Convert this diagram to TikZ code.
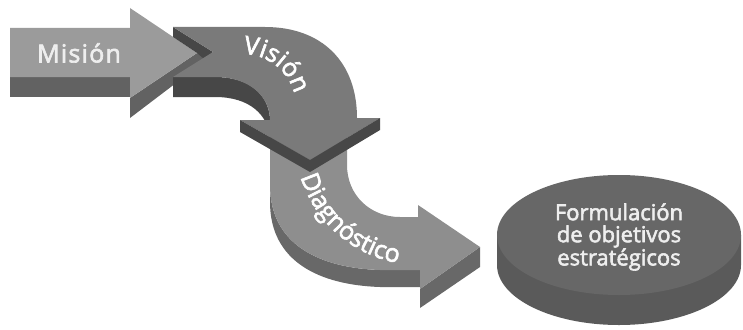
\documentclass[tikz,border=0pt]{standalone}
\usepackage{fontspec}
\setmainfont{Open Sans}
\newfontfamily\labelfont{Open Sans}[FakeBold=2.5, LetterSpace=5]
\newfontfamily\curvefont{Open Sans}[FakeBold=2.5]
\usetikzlibrary{decorations.text}
\definecolor{misionTop}{HTML}{9B9B9B}
\definecolor{misionSide}{HTML}{626262}
\definecolor{visionTop}{HTML}{7A7A7A}
\definecolor{visionSide}{HTML}{474747}
\definecolor{diagTop}{HTML}{8E8E8E}
\definecolor{diagSide}{HTML}{686868}
\definecolor{diskTop}{HTML}{676767}
\definecolor{diskSide}{HTML}{5A5A5A}
\definecolor{labelText}{HTML}{EEEEEE}
\begin{document}
\begin{tikzpicture}[x=1pt, y=-1pt,
    arrowtext/.style={text=labelText, font=\labelfont\fontsize{25}{30}\selectfont},
    disktext/.style={text=labelText, align=center, font=\curvefont\fontsize{22}{22}\selectfont}]
    \useasboundingbox (0,0) rectangle (743,329);

    % Diagnostico arrow (bottom layer)
    \fill[diagSide] (270,185) .. controls (270,245) and (320,268) .. (380,270) -- (420,270) -- (420,287) -- (380,287) .. controls (320,285) and (270,262) .. (270,202) -- cycle;
    \fill[diagSide] (420,289) -- (480,247) -- (480,267) -- (420,308) -- cycle;
    \fill[diagTop] (270,125) -- (270,185) .. controls (270,245) and (320,268) .. (380,270) -- (420,270) -- (420,289) -- (480,247) -- (418,205) -- (418,217) -- (400,217) .. controls (370,217) and (347,195) .. (347,165) -- (347,125) -- cycle;
    \path[decorate, decoration={text along path, text align=center,
        text={|\curvefont\color{white}\fontsize{25}{30}\selectfont|Diagnóstico}}]
        (420,140) ++(172:125) arc[start angle=172, end angle=91, radius=125];

    % Mision arrow
    \fill[misionSide] (10,77) rectangle (130,97);
    \fill[misionSide] (130,98) -- (197,53) -- (209,58) -- (130,118) -- cycle;
    \fill[misionTop] (10,28) -- (130,28) -- (130,8) -- (197,53) -- (130,98) -- (130,77) -- (10,77) -- cycle;
    \node[arrowtext] (mision) at (79,53) {Misión};

    % Vision arrow
    \fill[visionSide] (173,77) -- (215,77) .. controls (250,77) and (268,95) .. (270,118) -- (270,138) .. controls (268,115) and (250,97) .. (215,97) -- (173,97) -- cycle;
    \fill[visionSide] (173,27) -- (213,52) -- (204,59) -- (197,53) -- (173,37) -- cycle;
    \fill[visionTop] (173,27) -- (265,27) .. controls (322,27) and (357,62) .. (357,118) -- (380,118) -- (310,160) -- (240,120) -- (270,120) .. controls (270,97) and (250,77) .. (215,77) -- (173,77) -- (213,52) -- cycle;
    \fill[visionSide] (240,120) -- (310,160) -- (380,118) -- (380,130) -- (310,172) -- (240,132) -- cycle;
    \path[decorate, decoration={text along path, text align=center,
        text={|\curvefont\color{white}\fontsize{25}{30}\selectfont|Visión}}]
        (243,107) ++(-104:53) arc[start angle=-104, end angle=0, radius=53];

    % Objetivos disk
    \fill[diskSide] (497,235) -- (497,265) arc[start angle=180, end angle=0, x radius=122, y radius=60] -- (741,235) -- cycle;
    \fill[diskTop] (619,235) ellipse[x radius=122, y radius=60];
    \node[disktext] (objetivos) at (619,237) {Formulación\\de objetivos\\estratégicos};
\end{tikzpicture}
\end{document}
